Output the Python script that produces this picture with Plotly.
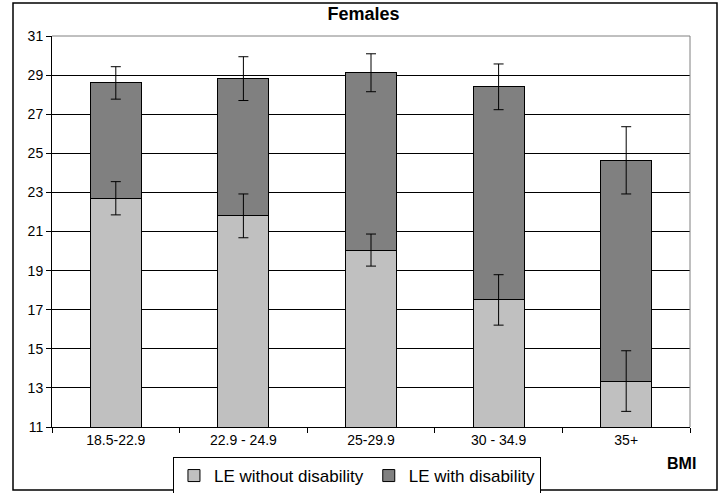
import plotly.graph_objects as go

categories = ["18.5-22.9", "22.9 - 24.9", "25-29.9", "30 - 34.9", "35+"]
le_without = [22.7, 21.8, 20.05, 17.5, 13.35]
le_total = [28.6, 28.82, 29.12, 28.4, 24.64]
le_with = [round(t - w, 2) for t, w in zip(le_total, le_without)]
err_without = [0.85, 1.12, 0.82, 1.29, 1.55]
err_total = [0.83, 1.12, 0.97, 1.17, 1.72]
y_ticks = list(range(11, 32, 2))

W, H = 727, 493
L, R, T, B = 52, 37, 36, 66
PW, PH = W - L - R, H - T - B


def px_x(x):
    return (x - L) / PW


def px_y(y):
    return (H - B - y) / PH


fig = go.Figure()
fig.add_trace(go.Bar(
    x=categories, y=le_without, name="LE without disability",
    marker=dict(color="#C0C0C0", line=dict(color="#000000", width=1)),
    width=0.4,
))
fig.add_trace(go.Bar(
    x=categories, y=le_with, name="LE with disability",
    marker=dict(color="#808080", line=dict(color="#000000", width=1)),
    width=0.4,
))
# error bars drawn on top of both stacked segments
fig.add_trace(go.Scatter(
    x=categories, y=le_without, mode="markers", showlegend=False, hoverinfo="skip",
    marker=dict(size=1, color="rgba(0,0,0,0)"),
    error_y=dict(type="data", array=err_without, color="#000000", thickness=1, width=5),
))
fig.add_trace(go.Scatter(
    x=categories, y=le_total, mode="markers", showlegend=False, hoverinfo="skip",
    marker=dict(size=1, color="rgba(0,0,0,0)"),
    error_y=dict(type="data", array=err_total, color="#000000", thickness=1, width=5),
))

font_family = "Liberation Sans, Arial, sans-serif"
fig.update_layout(
    barmode="stack",
    width=W, height=H,
    margin=dict(l=L, r=R, t=T, b=B),
    paper_bgcolor="white", plot_bgcolor="white",
    font=dict(family=font_family, color="#000000"),
    title=dict(text="<b>Females</b>", x=0.5, xanchor="center", y=0.972, yanchor="middle",
               font=dict(size=18, family=font_family, color="#000000")),
    showlegend=True,
    legend=dict(orientation="h", x=0.478, xanchor="center",
                yref="container", y=(H - 457) / H, yanchor="top",
                bordercolor="#000000", borderwidth=1, bgcolor="white",
                font=dict(size=17, family=font_family, color="#000000"),
                itemwidth=30, traceorder="normal", tracegroupgap=0),
    xaxis=dict(type="category", showline=True, linecolor="#000000", linewidth=1,
               ticks="outside", ticklen=5, tickcolor="#000000", tickson="boundaries",
               tickfont=dict(size=14, family=font_family), showgrid=False,
               automargin=False),
    yaxis=dict(range=[11, 31], tickvals=y_ticks, ticktext=[str(v) for v in y_ticks],
               showline=True, linecolor="#000000", linewidth=1,
               ticks="outside", ticklen=5, tickcolor="#000000",
               showgrid=True, gridcolor="#000000", gridwidth=1,
               tickfont=dict(size=14, family=font_family), zeroline=False,
               automargin=False),
    bargap=0.6,
    hovermode=False,
    shapes=[
        dict(type="line", xref="paper", yref="paper", x0=0, x1=1, y0=1, y1=1,
             line=dict(color="#808080", width=1), layer="above"),
        dict(type="line", xref="paper", yref="paper", x0=1, x1=1, y0=0, y1=1,
             line=dict(color="#808080", width=1), layer="above"),
        dict(type="rect", xref="paper", yref="paper",
             x0=px_x(13), x1=px_x(717), y0=px_y(490), y1=px_y(3),
             line=dict(color="#000000", width=1.5), layer="below"),
    ],
    annotations=[
        dict(text="<b>BMI</b>", xref="paper", yref="paper", x=px_x(681),
             y=px_y(463), xanchor="center", yanchor="middle", showarrow=False,
             font=dict(size=16, family=font_family, color="#000000")),
    ],
)

fig.write_html("out.html", config={"displayModeBar": False},
               post_script="document.body.style.margin='0';")
